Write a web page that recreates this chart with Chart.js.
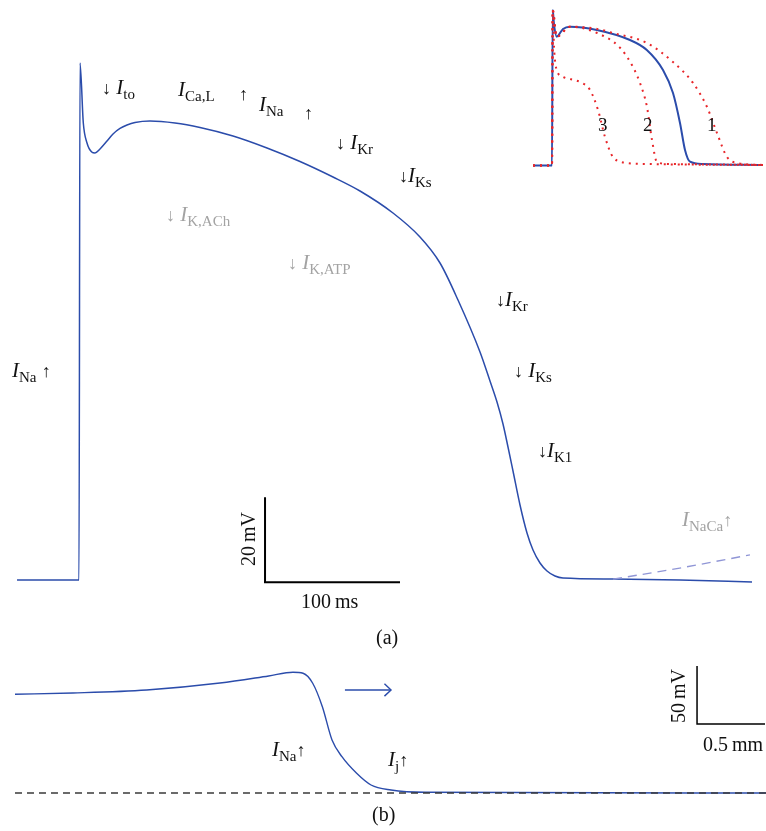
<!DOCTYPE html>
<html>
<head>
<meta charset="utf-8">
<script src="https://cdn.jsdelivr.net/npm/chart.js@4.4.1/dist/chart.umd.min.js"></script>
<style>
body { margin: 0; background: #fff; }
#page { position: relative; width: 766px; height: 831px; overflow: hidden; font-family: "Liberation Serif", "Times New Roman", serif; }
canvas { position: absolute; }
.lb { position: absolute; white-space: nowrap; line-height: 1; font-size: 21px; color: #111; }
.lb i { font-style: italic; }
.lb sub { font-size: 15px; vertical-align: baseline; position: relative; top: 5px; }
.lb .ar { font-size: 18px; }
.gray { color: #a3a3a3 !important; }
.rot { position: absolute; white-space: nowrap; line-height: 1; font-size: 20px; color: #111; transform: translate(-50%, -50%) rotate(-90deg); }
</style>
</head>
<body>
<div id="page">
  <canvas id="main" width="766" height="640" style="left:0;top:0"></canvas>
  <canvas id="inset" width="246" height="180" style="left:520px;top:0"></canvas>
  <canvas id="wave" width="766" height="191" style="left:0;top:640px"></canvas>
</div>
<script>
// (a) action potential, ms / mV
var apTime = [-45.9, 0, 0.74, 3.19, 5.93, 9.41, 11.85, 15.56, 20.74, 25.19, 30.37, 35.56, 41.48, 52.59, 71.11, 89.63, 114.07, 139.26, 163.7, 188.15, 208.15, 232.59, 252.59, 267.41, 280.74, 297.04, 304.44, 309.63, 314.07, 317.78, 321.48, 326.67, 331.85, 336.3, 341.48, 346.67, 352.59, 358.52, 395.56, 445.19, 498.52];
var apVolt = [-85, -85, 36.65, 22.53, 17.82, 15.71, 15.47, 16.41, 18.29, 19.94, 21.24, 22.06, 22.65, 23, 22.53, 21.47, 19.47, 16.65, 13.47, 9.82, 6.53, 1.35, -4.29, -10.41, -19.12, -31.35, -38.18, -43.12, -48.29, -53.71, -59.35, -67.35, -73.94, -77.94, -81, -82.88, -84.06, -84.53, -84.76, -85, -85.47];
var nacaTime = [395.6, 445, 497];
var nacaVolt = [-84.8, -82.2, -79.1];

// inset: control (blue) and three modified APs (red, dotted)
var insetTime = [-47.5, 0, 1.75, 5, 11.75, 27.5, 45, 112, 195, 237, 277.5, 302.5, 320, 332.5, 345, 377.5, 527.5];
var insetVolt = [-85, -85, 37, 26, 16.1, 22.2, 24, 21.4, 13.5, 5.7, -10, -28.1, -51.6, -72.8, -82, -83.8, -84.6];
var red1Time = [-47.5, 0, 1.75, 11.75, 45, 112.5, 152.5, 237, 302.5, 352.5, 387.5, 412.5, 437.5, 462.5, 527.5];
var red1Volt = [-85, -85, 37, 16.1, 24, 22.2, 19, 11.2, -3.8, -20.2, -39.1, -59.5, -78.3, -83, -84.6];
var red2Time = [-47.5, 0, 1.75, 11.75, 45, 112.5, 170, 202.5, 220, 237.5, 250, 262.5, 295, 527.5];
var red2Volt = [-85, -85, 37, 16.1, 24, 19, 7.4, -7.7, -20.2, -39.1, -65, -82.3, -83.8, -84.6];
var red3Time = [-47.5, 0, 1.75, 5, 11.75, 27.5, 70, 95, 115, 132.5, 152.5, 187.5, 237.5, 527.5];
var red3Volt = [-85, -85, 37, 8, -10, -15.5, -19.5, -25.7, -41.4, -62.6, -78.3, -83, -83.8, -84.6];

// (b) propagating wave, mm / mV
var waveDist = [0, 0.426, 0.968, 1.507, 1.865, 2.044, 2.118, 2.189, 2.26, 2.331, 2.404, 2.512, 2.618, 2.765, 3.015, 5.522];
var waveVolt = [0.1, 1.2, 3.8, 9.8, 15.9, 19.1, 18.2, 9.6, -10.6, -39.3, -53.7, -68, -78.1, -82.4, -84.4, -85];
var restDist = [0, 5.522];
var restVolt = [-85, -85];
var arrowDist = [2.426, 2.765];
var arrowVolt = [3.8, 3.8];

// scale bars: [x0, y0, xlen, ylen]
var barA = [137.8, -85.5, 100, 20];
var barB = [5.015, -25.5, 0.5, 50];

function pts(xs, ys) {
  return xs.map(function(x, i) { return {x: x, y: ys[i]}; });
}
function bar(b) {
  return [{x: b[0], y: b[1] + b[3]}, {x: b[0], y: b[1]}, {x: b[0] + b[2], y: b[1]}];
}
// pixel layout -> axis range
function xRange(w, px0, val0, ppu) { return [val0 - px0 / ppu, val0 + (w - px0) / ppu]; }
function yRange(h, py0, val0, ppu) { return [val0 - (h - py0) / ppu, val0 + py0 / ppu]; }

function line(data, color, width, extra) {
  var ds = {data: data, showLine: true, borderColor: color, borderWidth: width, pointRadius: 0, fill: false, clip: false, cubicInterpolationMode: 'monotone'};
  for (var k in extra) ds[k] = extra[k];
  return ds;
}

var arrowHeads = {
  id: 'arrowHeads',
  afterDatasetsDraw: function(chart) {
    var ctx = chart.ctx;
    chart.data.datasets.forEach(function(ds, i) {
      if (!ds.arrow) return;
      var p = chart.getDatasetMeta(i).data;
      var a = p[p.length - 2], b = p[p.length - 1];
      var ang = Math.atan2(b.y - a.y, b.x - a.x);
      ctx.save();
      ctx.strokeStyle = ds.borderColor;
      ctx.lineWidth = ds.borderWidth;
      ctx.beginPath();
      ctx.moveTo(b.x - 9 * Math.cos(ang - 0.75), b.y - 9 * Math.sin(ang - 0.75));
      ctx.lineTo(b.x, b.y);
      ctx.lineTo(b.x - 9 * Math.cos(ang + 0.75), b.y - 9 * Math.sin(ang + 0.75));
      ctx.stroke();
      ctx.restore();
    });
  }
};

function opts(xr, yr) {
  return {
    responsive: false, animation: false, events: [], devicePixelRatio: 1,
    layout: {padding: 0},
    plugins: {legend: {display: false}, tooltip: {enabled: false}},
    scales: {
      x: {type: 'linear', display: false, min: xr[0], max: xr[1]},
      y: {type: 'linear', display: false, min: yr[0], max: yr[1]}
    }
  };
}

var BLUE = '#2b4cab';

new Chart(document.getElementById('main'), {
  type: 'scatter',
  data: {datasets: [
    line(pts(nacaTime, nacaVolt), '#9096d6', 1.4, {borderDash: [9, 6]}),
    line(pts(apTime, apVolt), BLUE, 1.5),
    line(bar(barA), '#000', 2, {cubicInterpolationMode: 'default', tension: 0})
  ]},
  options: opts(xRange(766, 79, 0, 1.35), yRange(640, 580, -85, 4.25))
});

new Chart(document.getElementById('inset'), {
  type: 'scatter',
  data: {datasets: [
    line(pts(red1Time, red1Volt), '#e8262a', 2, {borderDash: [2, 5]}),
    line(pts(red2Time, red2Volt), '#e8262a', 2, {borderDash: [2, 5]}),
    line(pts(red3Time, red3Volt), '#e8262a', 2, {borderDash: [2, 5]}),
    line(pts(insetTime, insetVolt), BLUE, 2)
  ]},
  options: opts(xRange(246, 32, 0, 0.4), yRange(180, 165.5, -85, 1.274))
});

new Chart(document.getElementById('wave'), {
  type: 'scatter',
  data: {datasets: [
    line(pts(restDist, restVolt), '#3a3a3a', 1.5, {borderDash: [7, 5]}),
    line(pts(waveDist, waveVolt), BLUE, 1.4),
    line(pts(arrowDist, arrowVolt), BLUE, 1.4, {arrow: true}),
    line(bar(barB), '#000', 1.5, {cubicInterpolationMode: 'default', tension: 0})
  ]},
  options: opts(xRange(766, 15, 0, 136), yRange(191, 153, -85, 1.16)),
  plugins: [arrowHeads]
});

// text labels: [html, left x, baseline y, size, gray]
var labels = [
  ['<i>I</i><sub>Na</sub> <span class="ar">\u2191</span>', 12, 378, 21, 0],
  ['<span class="ar">\u2193</span> <i>I</i><sub>to</sub>', 102, 95, 21, 0],
  ['<i>I</i><sub>Ca,L</sub>', 178, 97, 21, 0],
  ['<span class="ar">\u2191</span>', 239, 101, 21, 0],
  ['<i>I</i><sub>Na</sub>', 259, 112, 21, 0],
  ['<span class="ar">\u2191</span>', 304, 120, 21, 0],
  ['<span class="ar">\u2193</span> <i>I</i><sub>Kr</sub>', 336, 150, 21, 0],
  ['<span class="ar">\u2193</span><i>I</i><sub>Ks</sub>', 399, 183, 21, 0],
  ['<span class="ar">\u2193</span> <i>I</i><sub>K,ACh</sub>', 166, 222, 21, 1],
  ['<span class="ar">\u2193</span> <i>I</i><sub>K,ATP</sub>', 288, 270, 21, 1],
  ['<span class="ar">\u2193</span><i>I</i><sub>Kr</sub>', 496, 307, 21, 0],
  ['<span class="ar">\u2193</span> <i>I</i><sub>Ks</sub>', 514, 378, 21, 0],
  ['<span class="ar">\u2193</span><i>I</i><sub>K1</sub>', 538, 458, 21, 0],
  ['<i>I</i><sub>NaCa</sub><span class="ar">\u2191</span>', 682, 527, 21, 1],
  ['3', 598, 131, 19, 0],
  ['2', 643, 131, 19, 0],
  ['1', 707, 131, 19, 0],
  ['100\u2009ms', 301, 608, 20, 0],
  ['(a)', 376, 644, 20, 0],
  ['<i>I</i><sub>Na</sub><span class="ar">\u2191</span>', 272, 757, 21, 0],
  ['<i>I</i><sub>j</sub><span class="ar">\u2191</span>', 388, 767, 21, 0],
  ['0.5\u2009mm', 703, 751, 20, 0],
  ['(b)', 372, 821, 20, 0]
];
var page = document.getElementById('page');
labels.forEach(function(l) {
  var d = document.createElement('div');
  d.className = 'lb' + (l[4] ? ' gray' : '');
  d.innerHTML = l[0];
  d.style.fontSize = l[3] + 'px';
  d.style.left = l[1] + 'px';
  d.style.top = (l[2] - 0.8375 * l[3]) + 'px';
  page.appendChild(d);
});
// rotated scale-bar captions: [text, centre x, centre y]
[['20\u2009mV', 248, 539], ['50\u2009mV', 678, 696]].forEach(function(r) {
  var d = document.createElement('div');
  d.className = 'rot';
  d.textContent = r[0];
  d.style.left = r[1] + 'px';
  d.style.top = r[2] + 'px';
  page.appendChild(d);
});
</script>
</body>
</html>
